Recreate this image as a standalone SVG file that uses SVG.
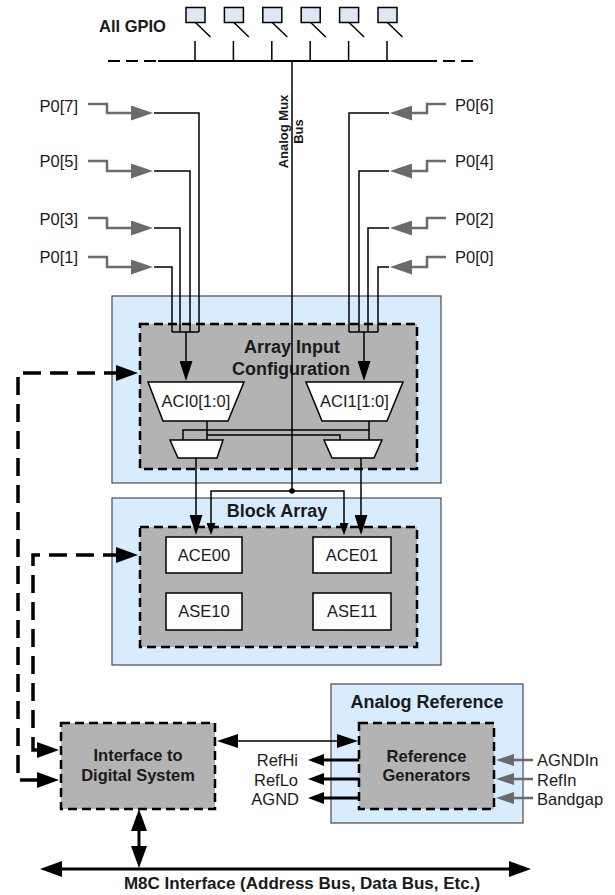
<svg xmlns="http://www.w3.org/2000/svg" width="615" height="895" viewBox="0 0 615 895">
<defs>
<style>
text{font-family:"Liberation Sans",Arial,sans-serif;fill:#1a1a1a}
.t{font-size:16.5px}
.tb{font-size:16.5px;font-weight:bold}
.title{font-size:18px;font-weight:bold}
.mid{text-anchor:middle}
.end{text-anchor:end}
.outer{fill:#d8ecff;stroke:#4a4a4a;stroke-width:1.2}
.inner{fill:#b3b3b3;stroke:#000;stroke-width:2.5;stroke-dasharray:9,5}
.box{fill:#fff;stroke:#000;stroke-width:1.5}
.pin{fill:#dfe7f5;stroke:#000;stroke-width:1.5}
.w{fill:none;stroke:#000;stroke-width:1.5}
.g{fill:none;stroke:#6b6b6b;stroke-width:2.5}
.thick{fill:none;stroke:#000;stroke-width:3}
.dash{fill:none;stroke:#000;stroke-width:3.5;stroke-dasharray:18,9}
</style>
<marker id="ahBig" markerUnits="userSpaceOnUse" markerWidth="20" markerHeight="13" refX="1" refY="6.5" orient="auto-start-reverse"><path d="M0,0 L20,6.5 L0,13 z" fill="#000"/></marker>
<marker id="ahSmall" markerUnits="userSpaceOnUse" markerWidth="12" markerHeight="9" refX="1" refY="4.5" orient="auto-start-reverse"><path d="M0,0 L12,4.5 L0,9 z" fill="#000"/></marker>
<marker id="ahGray" markerUnits="userSpaceOnUse" markerWidth="22" markerHeight="15" refX="1" refY="7.5" orient="auto-start-reverse"><path d="M0,0 L22,7.5 L0,15 z" fill="#6b6b6b"/></marker>
<marker id="ahGray2" markerUnits="userSpaceOnUse" markerWidth="18" markerHeight="12" refX="1" refY="6" orient="auto-start-reverse"><path d="M0,0 L18,6 L0,12 z" fill="#6b6b6b"/></marker>
<marker id="ahDash" markerUnits="userSpaceOnUse" markerWidth="22" markerHeight="16" refX="1" refY="8" orient="auto-start-reverse"><path d="M0,0 L22,8 L0,16 z" fill="#000"/></marker>
<marker id="ahMid" markerUnits="userSpaceOnUse" markerWidth="21" markerHeight="14" refX="1" refY="7" orient="auto-start-reverse"><path d="M0,0 L21,7 L0,14 z" fill="#000"/></marker>
<marker id="ahOut" markerUnits="userSpaceOnUse" markerWidth="16" markerHeight="12" refX="1" refY="6" orient="auto-start-reverse"><path d="M0,0 L16,6 L0,12 z" fill="#000"/></marker>
<marker id="ahBus" markerUnits="userSpaceOnUse" markerWidth="22" markerHeight="16" refX="1" refY="8" orient="auto-start-reverse"><path d="M0,0 L22,8 L0,16 z" fill="#000"/></marker>
</defs>
<rect width="615" height="895" fill="#fff"/>

<g id="gpio">
<text class="tb" x="99" y="32">All GPIO</text>
<rect class="pin" x="186" y="7.5" width="19" height="15"/>
<rect class="pin" x="224.4" y="7.5" width="19" height="15"/>
<rect class="pin" x="262.8" y="7.5" width="19" height="15"/>
<rect class="pin" x="301.2" y="7.5" width="19" height="15"/>
<rect class="pin" x="339.6" y="7.5" width="19" height="15"/>
<rect class="pin" x="378" y="7.5" width="19" height="15"/>
<path class="w" d="M195.5,22.5 L210.5,37 M233.9,22.5 L248.9,37 M272.3,22.5 L287.3,37 M310.7,22.5 L325.7,37 M349.1,22.5 L364.1,37 M387.5,22.5 L402.5,37"/>
<path class="w" d="M195,41 V61 M233.4,41 V61 M271.8,41 V61 M310.2,41 V61 M348.6,41 V61 M387,41 V61"/>
</g>

<g id="p0-labels">
<text class="t end" x="78" y="111.5">P0[7]</text>
<text class="t end" x="78" y="167">P0[5]</text>
<text class="t end" x="78" y="224.5">P0[3]</text>
<text class="t end" x="78" y="263">P0[1]</text>
<text class="t" x="455" y="110.5">P0[6]</text>
<text class="t" x="455" y="167">P0[4]</text>
<text class="t" x="455" y="224.5">P0[2]</text>
<text class="t" x="455" y="263">P0[0]</text>
</g>

<g id="array-input-configuration">
<rect class="outer" x="112" y="296" width="329" height="187"/>
<rect class="inner" x="140" y="324" width="277" height="145"/>
<text class="title mid" x="292" y="353">Array Input</text>
<text class="title mid" x="291" y="375">Configuration</text>
</g>
<g id="aci0">
<polygon class="box" points="148,382 244,382 228,421 163,421"/>
<text class="t mid" x="196" y="407">ACI0[1:0]</text>
</g>
<g id="aci1">
<polygon class="box" points="306,382 403,382 387,421 322,421"/>
<text class="t mid" x="354.5" y="407">ACI1[1:0]</text>
</g>
<g id="mux-left">
<polygon class="box" points="170,440 223,440 217,458 178,458"/>
</g>
<g id="mux-right">
<polygon class="box" points="324,440 382,440 374,458 332,458"/>
</g>

<g id="block-array">
<rect class="outer" x="112" y="498" width="329" height="167"/>
<rect class="inner" x="140" y="527" width="277" height="120"/>
<text class="title mid" x="277" y="517">Block Array</text>
</g>
<g id="ace00"><rect class="box" x="166" y="537" width="76" height="36"/><text class="t mid" x="204" y="561">ACE00</text></g>
<g id="ace01"><rect class="box" x="313" y="537" width="78" height="36"/><text class="t mid" x="352" y="561">ACE01</text></g>
<g id="ase10"><rect class="box" x="166" y="593" width="76" height="37"/><text class="t mid" x="204" y="617">ASE10</text></g>
<g id="ase11"><rect class="box" x="313" y="593" width="78" height="37"/><text class="t mid" x="352" y="617">ASE11</text></g>

<g id="interface-digital">
<rect class="inner" x="61" y="723" width="154" height="86"/>
<text class="tb mid" x="138" y="761">Interface to</text>
<text class="tb mid" x="138" y="781">Digital System</text>
</g>

<g id="analog-reference">
<rect class="outer" x="331" y="684" width="192" height="139"/>
<text class="title mid" x="427" y="708">Analog Reference</text>
</g>
<g id="reference-generators">
<rect class="inner" x="359" y="723" width="135" height="86"/>
<text class="tb mid" x="426.5" y="762">Reference</text>
<text class="tb mid" x="426.5" y="781">Generators</text>
</g>

<g id="ref-labels">
<text class="t end" x="298" y="766">RefHi</text>
<text class="t end" x="298" y="786">RefLo</text>
<text class="t end" x="299" y="805">AGND</text>
<text class="t" x="537" y="766">AGNDIn</text>
<text class="t" x="537" y="786">RefIn</text>
<text class="t" x="537" y="805">Bandgap</text>
</g>

<g id="connectors">
<path d="M158,61 H425" fill="none" stroke="#000" stroke-width="2"/>
<path d="M108,61 H158 M425,61 H475" fill="none" stroke="#000" stroke-width="2" stroke-dasharray="12,6"/>
<path class="w" d="M292,61 V491"/>
<text style="font-size:13px;font-weight:bold" text-anchor="middle" transform="translate(287.5,131.5) rotate(-90)">Analog Mux</text>
<text style="font-size:13px;font-weight:bold" text-anchor="middle" transform="translate(302.5,131.5) rotate(-90)">Bus</text>

<path class="g" d="M88,104 H107 V113 H132" marker-end="url(#ahGray)"/>
<path class="g" d="M88,161 H107 V171 H132" marker-end="url(#ahGray)"/>
<path class="g" d="M88,218 H107 V228 H132" marker-end="url(#ahGray)"/>
<path class="g" d="M88,257 H107 V267 H132" marker-end="url(#ahGray)"/>
<path class="w" d="M154,113 H199 V332 M154,171 H190 V332 M154,228 H180 V332 M154,267 H172 V332 M172,332 H199"/>
<path class="w" d="M186,332 V362" marker-end="url(#ahBig)"/>

<path class="g" d="M446,104 H427 V113 H411" marker-end="url(#ahGray)"/>
<path class="g" d="M446,161 H427 V171 H411" marker-end="url(#ahGray)"/>
<path class="g" d="M446,218 H427 V228 H411" marker-end="url(#ahGray)"/>
<path class="g" d="M446,257 H427 V267 H411" marker-end="url(#ahGray)"/>
<path class="w" d="M389,113 H349 V332 M389,171 H359 V332 M389,228 H368 V332 M389,267 H378 V332 M349,332 H378"/>
<path class="w" d="M364,332 V362" marker-end="url(#ahBig)"/>

<path class="w" d="M207,421 V440 M207,435 H340 V440 M369,421 V440 M369,430 H183 V440"/>

<path class="w" d="M196,458 V516" marker-end="url(#ahBig)"/>
<path class="w" d="M361,458 V516" marker-end="url(#ahBig)"/>
<path class="w" d="M211,524 V491 H344 V524" marker-start="url(#ahSmall)" marker-end="url(#ahSmall)"/>
<circle cx="292" cy="491" r="2.8" fill="#000"/>

<path class="dash" d="M38,780 H18 V373 H117" marker-start="url(#ahDash)" marker-end="url(#ahDash)"/>
<path class="dash" d="M38,750 H33 V555 H117" marker-start="url(#ahDash)" marker-end="url(#ahDash)"/>

<path class="w" d="M237,741 H338" marker-start="url(#ahMid)" marker-end="url(#ahMid)"/>

<path class="thick" d="M359,760 H323" marker-end="url(#ahOut)"/>
<path class="thick" d="M359,779 H323" marker-end="url(#ahOut)"/>
<path class="thick" d="M359,798 H323" marker-end="url(#ahOut)"/>

<path class="g" d="M533,760 H513" marker-end="url(#ahGray2)"/>
<path class="g" d="M533,779 H513" marker-end="url(#ahGray2)"/>
<path class="g" d="M533,798 H513" marker-end="url(#ahGray2)"/>

<path class="thick" d="M139,830 V847" marker-start="url(#ahBus)" marker-end="url(#ahBus)"/>
<path class="thick" d="M61,869 H510" marker-start="url(#ahBus)" marker-end="url(#ahBus)"/>
</g>

<text style="font-size:17px;font-weight:bold" text-anchor="middle" x="302" y="889">M8C Interface (Address Bus, Data Bus, Etc.)</text>
</svg>
